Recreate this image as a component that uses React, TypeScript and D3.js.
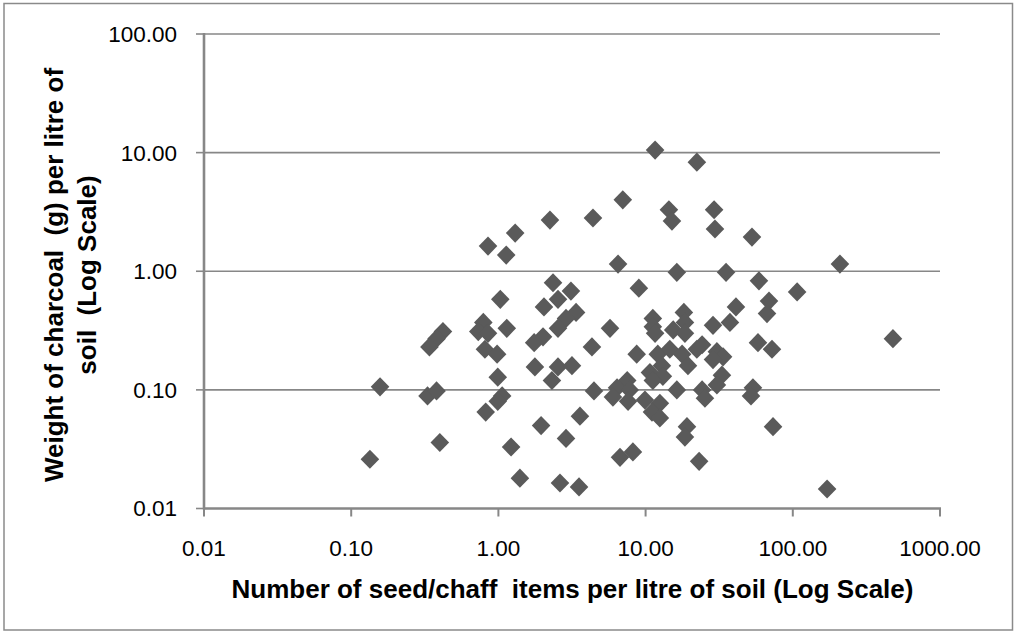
import React from "react";
import * as d3 from "d3";

const seedChaffPerLitre = [
  11.6, 22.3, 7.0, 14.4, 15.1, 29.2, 29.6, 52.8, 4.39, 2.24,
  1.30, 0.85, 1.13, 6.5, 209, 16.3, 35.2, 58.9, 107, 9.0,
  68.9, 66.8, 41.1, 18.2, 11.2, 2.35, 3.11, 2.54, 1.03, 2.04,
  3.37, 2.88, 2.54, 5.73, 2.01, 1.75, 4.32, 0.42, 0.38, 0.34,
  0.79, 0.73, 0.85, 1.14, 0.81, 0.98, 1.77, 2.54, 3.16, 2.31,
  0.99, 0.157, 0.33, 0.38, 1.06, 0.99, 0.82, 4.46, 3.58, 1.95,
  2.88, 0.40, 1.22, 0.134, 6.7, 1.40, 2.62, 3.53, 11.2, 11.6,
  18.5, 15.4, 18.5, 28.7, 37.4, 479, 58.0, 72.2, 24.2, 22.3,
  30.5, 33.6, 28.7, 8.7, 12.1, 14.6, 17.7, 19.4, 10.7, 12.9,
  13.1, 11.2, 7.5, 6.4, 7.8, 6.0, 7.6, 33.0, 30.5, 24.2,
  25.3, 16.3, 53.6, 52.0, 9.9, 12.5, 11.05, 12.5, 19.1, 18.5,
  73.4, 8.2, 23.1, 171,
];

const charcoalPerLitre = [
  10.5, 8.3, 4.0, 3.3, 2.65, 3.3, 2.27, 1.94, 2.81, 2.70,
  2.10, 1.63, 1.37, 1.15, 1.15, 0.98, 0.98, 0.83, 0.67, 0.72,
  0.56, 0.44, 0.50, 0.45, 0.40, 0.80, 0.68, 0.58, 0.58, 0.50,
  0.45, 0.40, 0.33, 0.33, 0.28, 0.25, 0.23, 0.31, 0.27, 0.23,
  0.37, 0.31, 0.30, 0.33, 0.22, 0.20, 0.156, 0.156, 0.16, 0.12,
  0.128, 0.106, 0.089, 0.098, 0.089, 0.080, 0.065, 0.098, 0.060, 0.050,
  0.039, 0.036, 0.033, 0.026, 0.027, 0.018, 0.0164, 0.0152, 0.34, 0.30,
  0.37, 0.32, 0.30, 0.35, 0.37, 0.27, 0.25, 0.22, 0.24, 0.22,
  0.21, 0.19, 0.18, 0.20, 0.20, 0.22, 0.20, 0.16, 0.14, 0.16,
  0.13, 0.12, 0.12, 0.104, 0.10, 0.087, 0.080, 0.133, 0.11, 0.10,
  0.085, 0.10, 0.104, 0.089, 0.082, 0.077, 0.065, 0.058, 0.049, 0.040,
  0.049, 0.030, 0.025, 0.0146,
];

const xTickValues = [0.01, 0.1, 1, 10, 100, 1000];
const yTickValues = [0.01, 0.1, 1, 10, 100];

const xTitle = "Number of seed/chaff  items per litre of soil (Log Scale)";
const yTitleLines = ["Weight of charcoal  (g) per litre of", "soil  (Log Scale)"];

const W = 1016;
const H = 633;
const left = 204;
const right = 940;
const top = 34;
const bottom = 508.5;

const FONT = "'Liberation Sans', Arial, sans-serif";
const GRID = "#878787";
const MARK = "#5a5a5a";

export default function App() {
  const x = d3.scaleLog().domain([0.01, 1000]).range([left, right]);
  const y = d3.scaleLog().domain([0.01, 100]).range([bottom, top]);
  const fmt = (v: number) => v.toFixed(2);
  const hw = 9.3;
  const hh = 9.6;
  const diamond = `M0,${-hh}L${hw},0L0,${hh}L${-hw},0Z`;

  return (
    <div style={{ position: "fixed", left: 0, top: 0, width: W, height: H, background: "#fff" }}>
      <svg width={W} height={H} style={{ display: "block" }}>
        <rect x={0} y={0} width={W} height={H} fill="#fff" />
        <rect x={4} y={3.5} width={1008.5} height={626.5} fill="none" stroke="#8a8a8a" strokeWidth={1.5} />
        {yTickValues.filter((v) => v > 0.01).map((v) => (
          <line key={"g" + v} x1={left} x2={right} y1={y(v)} y2={y(v)} stroke={GRID} strokeWidth={1.6} />
        ))}
        {yTickValues.map((v) => (
          <line key={"yt" + v} x1={left - 8} x2={left} y1={y(v)} y2={y(v)} stroke={GRID} strokeWidth={1.6} />
        ))}
        {xTickValues.map((v) => (
          <line key={"xt" + v} x1={x(v)} x2={x(v)} y1={bottom} y2={bottom + 8} stroke={GRID} strokeWidth={2} />
        ))}
        <line x1={left} x2={left} y1={top - 1} y2={bottom + 1} stroke={GRID} strokeWidth={2.6} />
        <line x1={left - 1} x2={right + 1} y1={bottom} y2={bottom} stroke={GRID} strokeWidth={2.6} />
        {yTickValues.map((v) => (
          <text key={"yl" + v} x={177} y={y(v)} dy="0.35em" textAnchor="end" fontFamily={FONT} fontSize={22.5} fill="#000">
            {fmt(v)}
          </text>
        ))}
        {xTickValues.map((v) => (
          <text key={"xl" + v} x={x(v)} y={556} textAnchor="middle" fontFamily={FONT} fontSize={22.5} fill="#000">
            {fmt(v)}
          </text>
        ))}
        {seedChaffPerLitre.map((xv, i) => (
          <path key={"p" + i} d={diamond} transform={`translate(${x(xv)},${y(charcoalPerLitre[i])})`} fill={MARK} />
        ))}
        <text x={572.5} y={598} textAnchor="middle" fontFamily={FONT} fontWeight="bold" fontSize={26} fill="#000" style={{ whiteSpace: "pre" }}>
          {xTitle}
        </text>
        {yTitleLines.map((t, i) => (
          <text
            key={"yt" + i}
            transform={`translate(${63 + i * 33},275) rotate(-90)`}
            textAnchor="middle"
            fontFamily={FONT}
            fontWeight="bold"
            fontSize={26}
            fill="#000"
            style={{ whiteSpace: "pre" }}
          >
            {t}
          </text>
        ))}
      </svg>
    </div>
  );
}
